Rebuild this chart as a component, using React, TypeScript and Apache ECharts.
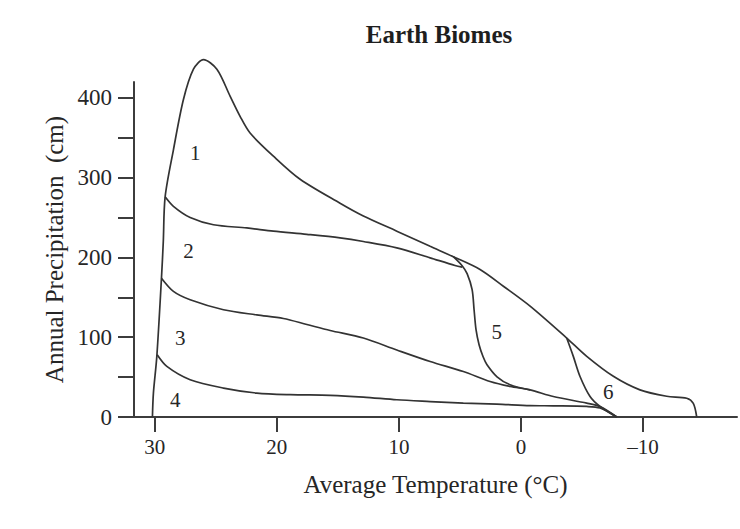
import React, { useEffect, useRef } from "react";
import * as echarts from "echarts";

// Temperature (°C) / precipitation (cm) points
const outerBoundary: [number, number][] = [
  [30.19, 0], [30.11, 30], [29.83, 76], [29.45, 174], [29.3, 220], [29.15, 276],
  [28.47, 335], [27.65, 398], [26.83, 436], [26.01, 448], [24.91, 436],
  [23.82, 402], [23.01, 377], [22.19, 356], [20.28, 327], [18.09, 298],
  [14.82, 268], [12.91, 252], [10.17, 233], [7.44, 214], [5.54, 201],
  [3.35, 185], [1.44, 164], [-0.75, 139], [-3.75, 99], [-5.39, 76],
  [-7.57, 51], [-9.75, 34], [-11.94, 26], [-13.58, 23.5], [-14.12, 17], [-14.4, 0],
];
const boundary12: [number, number][] = [
  [29.15, 276], [28.47, 264], [27.1, 250], [25.19, 241], [22.46, 237],
  [20.28, 233], [17.54, 229], [14.82, 224.5], [12.91, 220], [10.17, 212],
  [7.44, 199.5], [5.4, 190], [4.82, 188],
];
const boundary23: [number, number][] = [
  [29.45, 174], [28.47, 157.5], [27.1, 147], [24.37, 134.5], [21.64, 128],
  [19.46, 123.5], [17.54, 116], [15.63, 108.5], [12.91, 99], [10.17, 84],
  [7.44, 69.6], [4.72, 57], [2.53, 44.5], [0.89, 38.3], [-0.75, 34],
  [-2.65, 25.7], [-5.39, 17.4], [-6.48, 13], [-7.85, 0],
];
const boundary34: [number, number][] = [
  [29.8, 78], [29.01, 63.4], [27.1, 46.7], [24.37, 36.3], [21.64, 30],
  [18.91, 28], [15.63, 27.2], [12.91, 25], [10.17, 21.6], [7.44, 19.4],
  [4.72, 17.4], [1.98, 16.2], [-0.75, 14.3], [-2.65, 14], [-5.39, 13.2],
  [-6.48, 11.2], [-7.85, 0],
];
const boundary5: [number, number][] = [
  [5.54, 201], [4.82, 189.7], [4.41, 179.7], [4.0, 159.6], [3.84, 134.5],
  [3.68, 109.4], [3.43, 90.6], [3.1, 75.5], [2.78, 65.5], [1.96, 50.4],
  [0.89, 40.4], [-0.75, 34],
];
const boundary6: [number, number][] = [
  [-3.75, 99], [-4.29, 76], [-4.84, 50.8], [-5.66, 25.7], [-6.48, 13.2], [-7.85, 0],
];

const biomeNames = ["1", "2", "3", "4", "5", "6"];
const biomeLabelT = [26.69, 27.24, 27.92, 28.33, 1.98, -7.16];
const biomeLabelP = [331, 208, 99, 21.6, 107, 31.8];

const xTicks = [30, 20, 10, 0, -10];
const yTicks = [0, 50, 100, 150, 200, 250, 300, 350, 400];
const yTickLabels = [0, 100, 200, 300, 400];

const FONT = '"Liberation Serif", "DejaVu Serif", serif';
const INK = "#333333";
const TEXT = "#262626";

export default function App() {
  const ref = useRef<HTMLDivElement>(null);
  useEffect(() => {
    if (!ref.current) return;
    const chart = echarts.init(ref.current, undefined, { renderer: "svg" });
    const curves = [outerBoundary, boundary12, boundary23, boundary34, boundary5, boundary6];
    const lineSeries = curves.map((c) => ({
      type: "line",
      data: c,
      showSymbol: false,
      symbol: "none",
      smooth: 0.3,
      clip: false,
      lineStyle: { color: INK, width: 1.7 },
      silent: true,
    }));
    chart.setOption({
      animation: false,
      backgroundColor: "#ffffff",
      title: {
        text: "Earth Biomes",
        left: 434,
        top: 17,
        textAlign: "center",
        textStyle: { fontFamily: FONT, fontWeight: "bold", fontSize: 25, color: "#1e1e1e" },
      },
      grid: { left: 134, right: 3, top: 82, bottom: 112 },
      xAxis: {
        type: "value",
        inverse: true,
        min: -17.7,
        max: 31.7,
        splitLine: { show: false },
        axisLine: { show: true, onZero: false, lineStyle: { color: "#3c3c3c", width: 2 } },
        axisTick: { show: true, customValues: xTicks, length: 15, lineStyle: { color: "#3c3c3c", width: 2 } },
        axisLabel: {
          customValues: xTicks,
          margin: 19,
          fontFamily: FONT,
          fontSize: 21,
          color: TEXT,
          formatter: (v: number) => (v < 0 ? "\u2013" + Math.abs(v) : String(v)),
        },
        name: "Average Temperature (°C)",
        nameLocation: "middle",
        nameGap: 55,
        nameTextStyle: { fontFamily: FONT, fontSize: 25, color: TEXT },
      },
      yAxis: {
        type: "value",
        min: 0,
        max: 420,
        splitLine: { show: false },
        axisLine: { show: true, onZero: false, lineStyle: { color: "#3c3c3c", width: 2 } },
        axisTick: { show: true, customValues: yTicks, length: 16, lineStyle: { color: "#3c3c3c", width: 2 } },
        axisLabel: {
          customValues: yTickLabels,
          margin: 22,
          fontFamily: FONT,
          fontSize: 23,
          color: TEXT,
        },
        name: "Annual Precipitation  (cm)",
        nameLocation: "middle",
        nameGap: 67,
        nameTextStyle: { fontFamily: FONT, fontSize: 25, color: TEXT },
      },
      series: [
        ...lineSeries,
        {
          type: "scatter",
          symbolSize: 0,
          itemStyle: { color: TEXT, opacity: 1 },
          silent: true,
          clip: false,
          data: biomeNames.map((n, i) => ({ name: n, value: [biomeLabelT[i], biomeLabelP[i]] })),
          label: {
            show: true,
            position: "inside",
            formatter: "{b}",
            fontFamily: FONT,
            fontSize: 21,
            color: TEXT,
            opacity: 1,
            textBorderWidth: 0,
          },
        },
      ],
    });
    return () => chart.dispose();
  }, []);
  return (
    <div
      ref={ref}
      style={{ position: "fixed", left: 0, top: 0, width: 740, height: 529, background: "#fff" }}
    />
  );
}
